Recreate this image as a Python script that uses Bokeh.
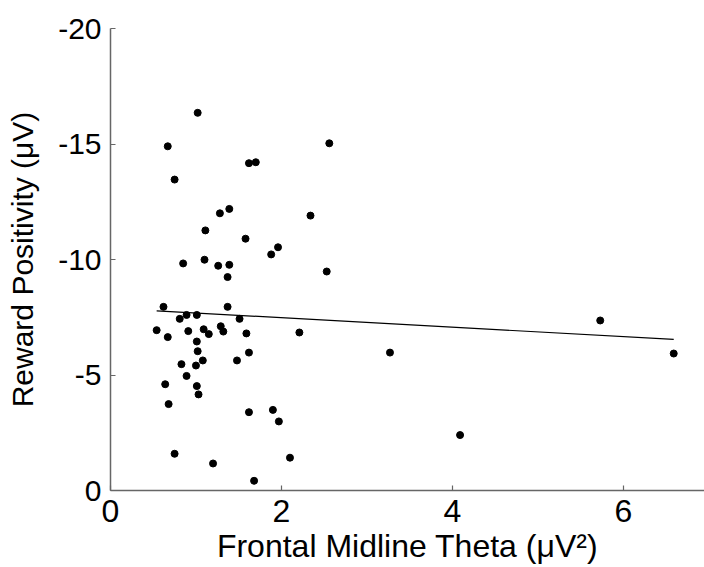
from bokeh.plotting import figure
from bokeh.models import Range1d, FixedTicker
from bokeh.embed import file_html
from bokeh.resources import INLINE

# Frontal midline theta (uV^2) and reward positivity (uV)
theta = [1.02, 0.67, 2.56, 1.62, 1.70, 0.75, 1.28, 1.39, 2.34, 1.11,
         1.58, 1.96, 1.88, 0.85, 1.10, 1.26, 1.39, 1.37, 2.53,
         0.62, 1.37, 0.81, 0.89, 1.01, 1.51, 0.54, 0.67, 0.91, 1.09,
         1.15, 1.29, 1.32, 1.59, 2.21, 3.27, 1.01, 1.02, 1.62, 1.08,
         1.48, 0.83, 1.00, 0.89, 0.64, 1.01, 1.03, 0.68, 1.62, 1.90,
         1.97, 0.75, 1.20, 2.10, 1.68, 4.09, 5.73, 6.59]
rewp = [-16.35, -14.90, -15.03, -14.17, -14.21, -13.46, -12.00, -12.19, -11.90, -11.26,
        -10.90, -10.53, -10.22, -9.83, -9.99, -9.73, -9.77, -9.24, -9.48,
        -7.95, -7.95, -7.43, -7.60, -7.60, -7.43, -6.94, -6.64, -6.90, -6.98,
        -6.77, -7.11, -6.88, -6.80, -6.84, -5.97, -6.45, -6.03, -5.97, -5.63,
        -5.63, -5.47, -5.41, -4.96, -4.60, -4.52, -4.16, -3.74, -3.39, -3.49,
        -2.99, -1.59, -1.17, -1.42, -0.42, -2.40, -7.36, -5.93]

# regression line end points
fit_x = [0.54, 6.59]
fit_y = [-7.78, -6.54]

x_ticks = [0, 2, 4, 6]
x_tick_labels = ["0", "2", "4", "6"]
y_ticks = [0, -5, -10, -15, -20]
y_tick_labels = ["0", "-5", "-10", "-15", "-20"]

x_title = "Frontal Midline Theta (\u03bcV\u00b2)"
y_title = "Reward Positivity (\u03bcV)"

p = figure(width=704, height=567, output_backend="svg", toolbar_location=None,
           x_range=Range1d(0, 6.95), y_range=Range1d(0, -20),
           min_border_left=110, min_border_right=0, min_border_top=28,
           min_border_bottom=77, background_fill_color="white",
           border_fill_color="white")
p.outline_line_color = None
p.xgrid.visible = False
p.ygrid.visible = False

p.line(fit_x, fit_y, line_color="black", line_width=1.2)
p.scatter(theta, rewp, size=7, fill_color="black", line_color="black")

font = "Liberation Sans"
for ax in (p.xaxis[0], p.yaxis[0]):
    ax.axis_line_color = "#666666"
    ax.axis_line_width = 1.5
    ax.major_tick_line_color = "#666666"
    ax.major_tick_line_width = 1.2
    ax.major_tick_in = 5
    ax.major_tick_out = 0
    ax.minor_tick_line_color = None
    ax.major_label_text_font = font
    ax.major_label_text_color = "black"
    ax.axis_label_text_font = font
    ax.axis_label_text_font_style = "normal"
    ax.axis_label_text_color = "black"

xa = p.xaxis[0]
xa.ticker = FixedTicker(ticks=x_ticks)
xa.major_label_overrides = dict(zip(x_ticks, x_tick_labels))
xa.major_label_text_font_size = "32px"
xa.major_label_standoff = 9
xa.axis_label = x_title
xa.axis_label_text_font_size = "32px"
xa.axis_label_standoff = 3

ya = p.yaxis[0]
ya.ticker = FixedTicker(ticks=y_ticks)
ya.major_label_overrides = dict(zip(y_ticks, y_tick_labels))
ya.major_label_text_font_size = "30px"
ya.major_label_standoff = 9
ya.axis_label = y_title
ya.axis_label_text_font_size = "30px"
ya.axis_label_standoff = 16

open("out.html", "w").write(file_html(p, INLINE))
